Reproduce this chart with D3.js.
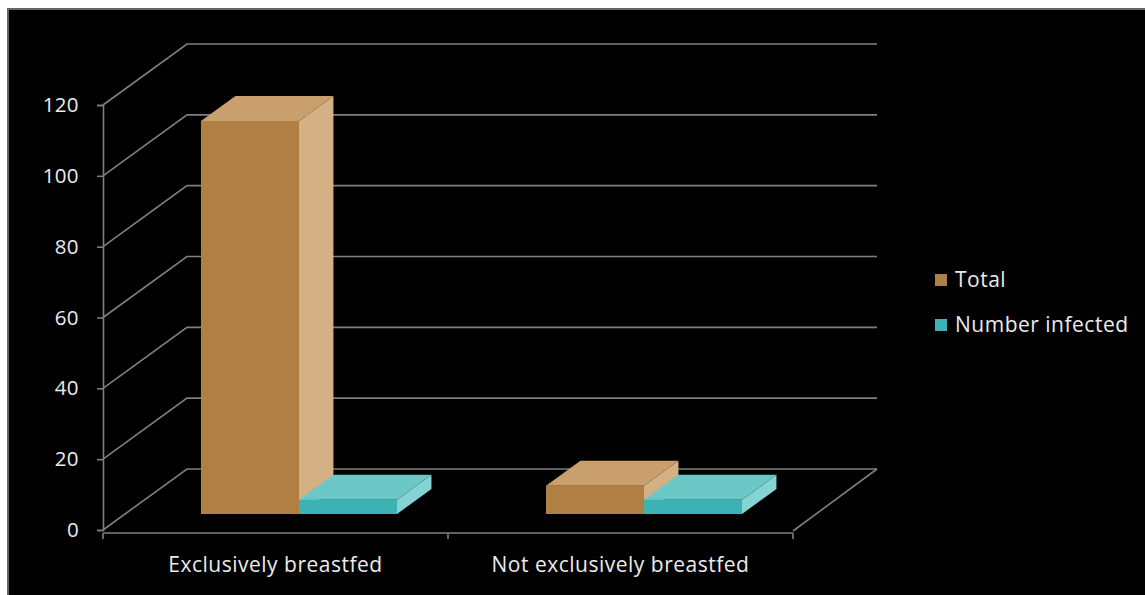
<!DOCTYPE html>
<html><head><meta charset="utf-8">
<script src="https://cdn.jsdelivr.net/npm/d3@7"></script>
<style>html,body{margin:0;padding:0;background:#fff;}svg{display:block;}</style>
</head><body>
<script>
const categories = ["Exclusively breastfed", "Not exclusively breastfed"];
const seriesNames = ["Total", "Number infected"];
const totalValues = [111, 8];
const infectedValues = [4, 4];
const yTicks = [0, 20, 40, 60, 80, 100, 120];

const W = 1145, H = 595;
const DX = 84, DY = 61;          // full depth offset of the 3D box
const zFront = 0.262, zBack = 0.672; // bar depth range (fraction)
const colors = {
  "Total": {front: "#b07f43", top: "#c99f6e", side: "#d4b085"},
  "Number infected": {front: "#3cb2b4", top: "#6cc7c7", side: "#86d3d3"}
};
const font = "'Open Sans', sans-serif";
const textColor = "#ebebeb";
const gridColor = "#7f7f7f";

const svg = d3.select("body").append("svg").attr("width", W).attr("height", H);
svg.append("rect").attr("x", 0).attr("y", 0).attr("width", W).attr("height", H).attr("fill", "#fff");
svg.append("rect").attr("x", 8).attr("y", 9).attr("width", W).attr("height", H).attr("fill", "#000")
  .attr("stroke", "#666").attr("stroke-width", 2);

const y = d3.scaleLinear().domain([0, 120]).range([530, 105]);
const x = d3.scaleBand().domain(categories).range([103, 793]);
const sub = d3.scaleBand().domain(seriesNames).paddingInner(0).paddingOuter(0.76).align(0.51);

const P = (sx, v, z) => [sx + z * DX, y(v) - z * DY];

// back wall gridlines + left wall diagonals
const grid = svg.append("g").attr("stroke", gridColor).attr("stroke-width", 1.6).attr("fill", "none");
yTicks.forEach(t => {
  const a = P(103, t, 0), b = P(103, t, 1), c = P(793, t, 1);
  grid.append("path").attr("d", d3.line()([a, b, c]));
});
// floor right edge
grid.append("path").attr("d", d3.line()([[793, 531], P(793, 0, 1)]));
// floor front / category axis
grid.append("path").attr("d", d3.line()([[103, 533], [793, 533]]));
[103, x(categories[1]), 793].forEach(px => {
  grid.append("line").attr("x1", px).attr("x2", px).attr("y1", 533).attr("y2", 539);
});

// y axis
const yAxis = d3.axisLeft(y).tickValues(yTicks).tickSize(6).tickPadding(18);
const ya = svg.append("g").attr("transform", "translate(103,0)").call(yAxis);
ya.select(".domain").attr("stroke", gridColor).attr("stroke-width", 1.6);
ya.selectAll(".tick line").attr("stroke", gridColor).attr("stroke-width", 1.6);
ya.selectAll(".tick text").attr("fill", textColor).attr("font-family", font).attr("font-size", 20.5)
  .attr("letter-spacing", 0.4);

// category labels
const xAxis = d3.axisBottom(x).tickSize(0).tickPadding(0);
const xa = svg.append("g").attr("transform", "translate(0,557)").call(xAxis);
xa.select(".domain").remove();
xa.selectAll(".tick text").attr("fill", textColor).attr("font-family", font).attr("font-size", 21)
  .attr("letter-spacing", 0.5).attr("dy", "0.71em");

// bars
const data = [];
categories.forEach((c, i) => {
  data.push({cat: c, series: "Total", value: totalValues[i]});
  data.push({cat: c, series: "Number infected", value: infectedValues[i]});
});
const bars = svg.append("g");
data.forEach(d => {
  sub.range([x(d.cat), x(d.cat) + x.bandwidth()]);
  const x0 = sub(d.series), x1 = x0 + sub.bandwidth();
  const col = colors[d.series];
  const g = bars.append("g");
  const f = [P(x0, 0, zFront), P(x1, 0, zFront), P(x1, d.value, zFront), P(x0, d.value, zFront)];
  const t = [P(x0, d.value, zFront), P(x1, d.value, zFront), P(x1, d.value, zBack), P(x0, d.value, zBack)];
  const s = [P(x1, 0, zFront), P(x1, 0, zBack), P(x1, d.value, zBack), P(x1, d.value, zFront)];
  g.append("polygon").attr("points", s.join(" ")).attr("fill", col.side);
  g.append("polygon").attr("points", t.join(" ")).attr("fill", col.top);
  g.append("polygon").attr("points", f.join(" ")).attr("fill", col.front);
});

// legend
const lg = svg.append("g").attr("transform", "translate(935,274)");
seriesNames.forEach((n, i) => {
  const row = lg.append("g").attr("transform", `translate(0,${i * 45})`);
  row.append("rect").attr("width", 12).attr("height", 12).attr("fill", colors[n].front);
  row.append("text").attr("x", 20).attr("y", 13).attr("fill", textColor)
    .attr("font-family", font).attr("font-size", 21).attr("letter-spacing", 0.5).text(n);
});
</script>
</body></html>
